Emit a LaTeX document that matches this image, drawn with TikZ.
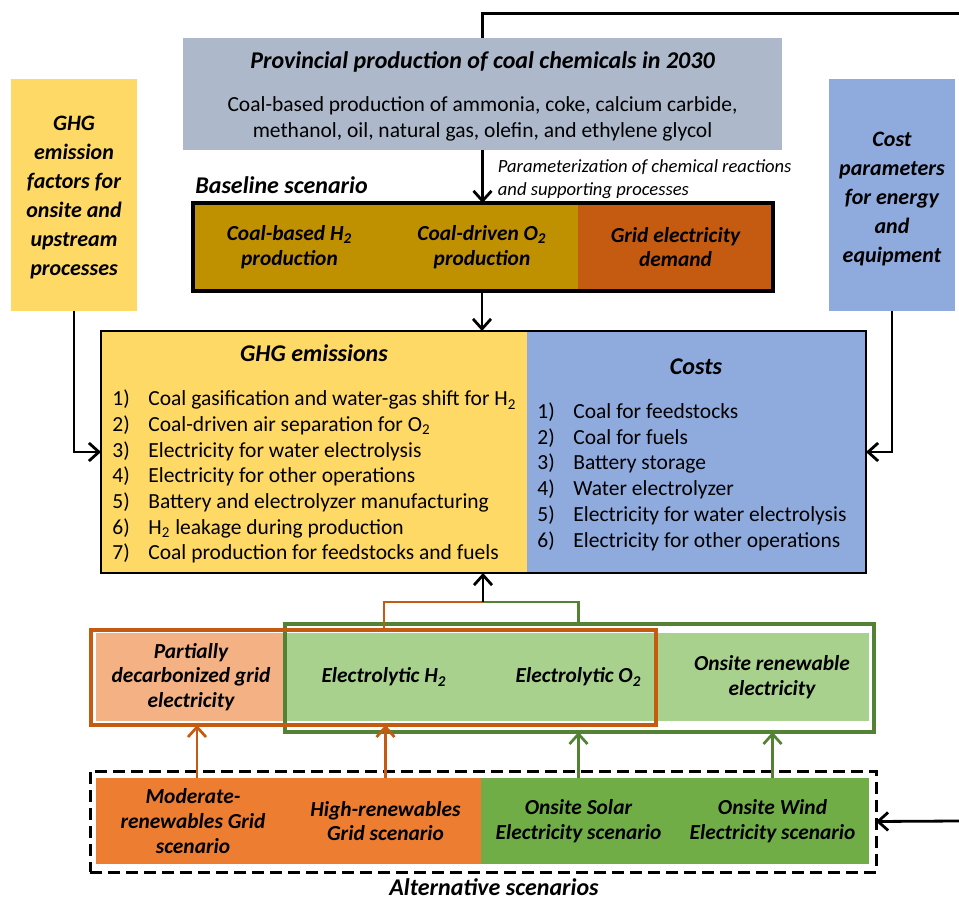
\documentclass[tikz,border=0pt]{standalone}
\usepackage{fontspec}
\setmainfont{Carlito}
\usepackage{tikz}
\usetikzlibrary{arrows.meta}
\definecolor{provGray}{HTML}{ADB9CA}
\definecolor{ghgYellow}{HTML}{FFD966}
\definecolor{costBlue}{HTML}{8FAADC}
\definecolor{coalGold}{HTML}{BF9000}
\definecolor{gridRust}{HTML}{C55A11}
\definecolor{gridSalmon}{HTML}{F4B183}
\definecolor{elecGreen}{HTML}{A9D18E}
\definecolor{scenOrange}{HTML}{ED7D31}
\definecolor{scenGreen}{HTML}{70AD47}
\definecolor{lineGreen}{HTML}{548235}

\begin{document}
\begin{tikzpicture}[x=0.5pt,y=-0.5pt,>={Straight Barb[length=5pt,width=9pt]},
    region/.style={anchor=north west,inner sep=0pt,outer sep=0pt,align=center},
    boxtitle/.style={font=\fontsize{12}{14}\selectfont\bfseries\itshape},
    boxlabel/.style={font=\fontsize{10.7}{12.4}\selectfont\bfseries\itshape},
    sidelabel/.style={font=\fontsize{11}{14.5}\selectfont\bfseries\itshape,align=center},
    bodytext/.style={font=\fontsize{10.75}{12.85}\selectfont,inner sep=0pt},
    link/.style={->,line width=1.4pt},
    rustlink/.style={link,gridRust,line width=1.35pt},
    greenlink/.style={link,lineGreen,line width=1.35pt}]
  \useasboundingbox (0,0) rectangle (959,898);
  \coordinate (loopin) at (959,14);
  \coordinate (loopout) at (959,821);
  \coordinate (merge) at (483,602);

  % inputs and baseline
  \node[region,fill=provGray,minimum width=299.5pt,minimum height=56pt] (prov) at (183,38) {};
  \node[boxtitle,anchor=base] (provtitle) at (482.5,69) {Provincial production of coal chemicals in 2030};
  \node[bodytext,align=center] (provtext) at (482.5,119)
    {Coal-based production of ammonia, coke, calcium carbide,\\methanol, oil, natural gas, olefin, and ethylene glycol};
  \node[font=\fontsize{9.3}{11.65}\selectfont\itshape,inner sep=0pt,anchor=west,align=left] (paramtext) at (497.5,179)
    {Parameterization of chemical reactions\\and supporting processes};
  \node[boxtitle,anchor=base west,inner sep=0pt] (baselabel) at (195,193.3) {Baseline scenario};
  \node[region,boxlabel,fill=coalGold,minimum width=96.5pt,minimum height=44pt] (h2base) at (193,203) {Coal-based H\textsubscript{2}\\production};
  \node[region,boxlabel,fill=coalGold,minimum width=96pt,minimum height=44pt] (o2base) at (386,203) {Coal-driven O\textsubscript{2}\\production};
  \node[region,boxlabel,fill=gridRust,minimum width=97.5pt,minimum height=44pt] (grid) at (578,203) {Grid electricity\\demand};
  \draw[line width=1.6pt] (h2base.north west) rectangle (grid.south east);
  \node[region,fill=ghgYellow,minimum width=63pt,minimum height=116pt] (ghgfac) at (11,79) {};
  \node[sidelabel] (ghgfactxt) at (74,198) {GHG\\emission\\factors for\\onsite and\\upstream\\processes};
  \node[region,fill=costBlue,minimum width=63pt,minimum height=116pt] (costpar) at (829,79) {};
  \node[sidelabel] (costpartxt) at (892,199.5) {Cost\\parameters\\for energy\\and\\equipment};

  % results
  \node[region,fill=ghgYellow,minimum width=213pt,minimum height=121pt] (ghg) at (101,331) {};
  \node[region,fill=costBlue,minimum width=169.5pt,minimum height=121pt] (costs) at (527,331) {};
  \draw[line width=1.35pt] (ghg.north west) rectangle (costs.south east);
  \node[boxtitle,anchor=base] (ghgtitle) at (314,361.7) {GHG emissions};
  \node[boxtitle,anchor=base] (coststitle) at (696,375) {Costs};
  \foreach \txt [count=\i] in {Coal gasification and water-gas shift for H\textsubscript{2},
      Coal-driven air separation for O\textsubscript{2}, Electricity for water electrolysis,
      Electricity for other operations, Battery and electrolyzer manufacturing,
      H\textsubscript{2} leakage during production, Coal production for feedstocks and fuels}
    {\node[bodytext,anchor=base west] (ghgnum\i) at (112,{380.3+25.67*\i}) {\i)};
     \node[bodytext,anchor=base west] (ghgitem\i) at (148,{380.3+25.67*\i}) {\txt};}
  \foreach \txt [count=\i] in {Coal for feedstocks, Coal for fuels, Battery storage,
      Water electrolyzer, Electricity for water electrolysis, Electricity for other operations}
    {\node[bodytext,anchor=base west] (costnum\i) at (537,{392.5+25.8*\i}) {\i)};
     \node[bodytext,anchor=base west] (costitem\i) at (573,{392.5+25.8*\i}) {\txt};}

  % alternative supply
  \node[region,boxlabel,fill=gridSalmon,minimum width=95pt,minimum height=44pt] (partial) at (96,633)
    {Partially\\decarbonized grid\\electricity};
  \node[region,boxlabel,fill=elecGreen,minimum width=98pt,minimum height=44pt] (elh2) at (286,633) {Electrolytic H\textsubscript{2}};
  \node[region,boxlabel,fill=elecGreen,minimum width=96.5pt,minimum height=44pt] (elo2) at (482,633) {Electrolytic O\textsubscript{2}};
  \node[region,boxlabel,fill=elecGreen,minimum width=97pt,minimum height=44pt] (onsite) at (675,633) {Onsite renewable\\electricity};
  \node[region,draw=lineGreen,line width=1.6pt,minimum width=294.5pt,minimum height=54pt] (onsitegrp) at (285,624) {};
  \node[region,draw=gridRust,line width=1.6pt,minimum width=282.5pt,minimum height=47.5pt] (gridgrp) at (91,630) {};

  % scenarios
  \node[region,draw,dash pattern=on 6pt off 3pt,line width=1.5pt,minimum width=393pt,minimum height=50.5pt] (altgrp) at (90,771) {};
  \node[region,boxlabel,fill=scenOrange,minimum width=97pt,minimum height=43pt] (moderate) at (96,778) {Moderate-\\renewables Grid\\scenario};
  \node[region,boxlabel,fill=scenOrange,minimum width=95.5pt,minimum height=43pt] (high) at (290,778) {High-renewables\\Grid scenario};
  \node[region,boxlabel,fill=scenGreen,minimum width=97.5pt,minimum height=43pt] (solar) at (481,778) {Onsite Solar\\Electricity scenario};
  \node[region,boxlabel,fill=scenGreen,minimum width=96.5pt,minimum height=43pt] (wind) at (676,778) {Onsite Wind\\Electricity scenario};
  \node[boxtitle,anchor=base,inner sep=0pt] (altlabel) at (494,895) {Alternative scenarios};

  \draw[line width=1.5pt] (loopin) -| (prov.north);
  \draw[link] (prov.south) -- (prov.south |- o2base.north);
  \draw[link] (o2base.south) -- (o2base.south |- ghg.north);
  \draw[link] (ghgfac.south) |- (ghg.west);
  \draw[link] (costpar.south) |- (costs.east);
  \draw[gridRust,line width=1.35pt] (elh2.center |- gridgrp.north) |- (merge);
  \draw[lineGreen,line width=1.35pt] (elo2.center |- onsitegrp.north) |- (merge);
  \draw[link] (merge) -- (merge |- ghg.south);
  \draw[rustlink] ([xshift=2pt]moderate.north) -- ([xshift=2pt]moderate.north |- gridgrp.south);
  \draw[rustlink] (high.north) -- (high.north |- gridgrp.south);
  \draw[greenlink] (solar.north) -- (solar.north |- onsitegrp.south);
  \draw[greenlink] (wind.north) -- (wind.north |- onsitegrp.south);
  \draw[link] (loopout) -- (altgrp.east);
\end{tikzpicture}
\end{document}
